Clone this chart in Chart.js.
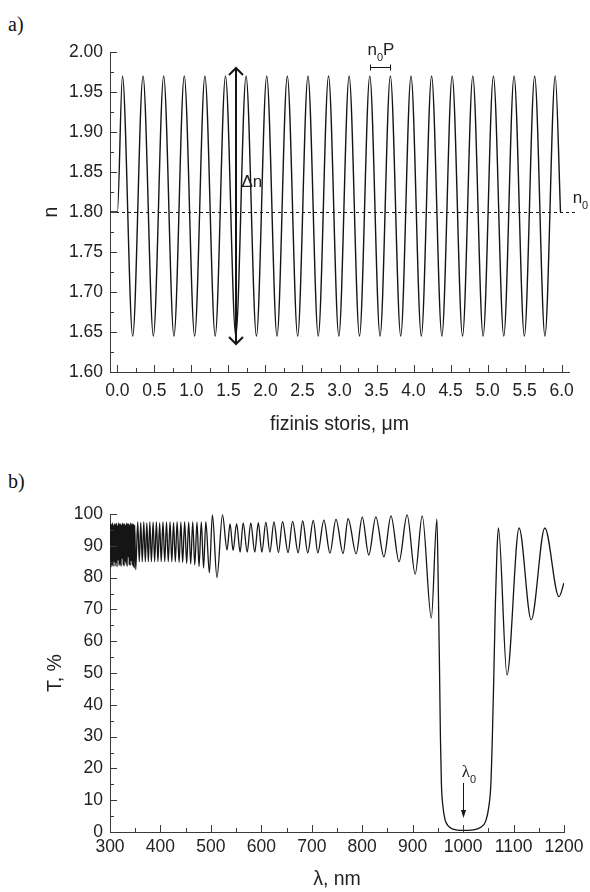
<!DOCTYPE html>
<html>
<head>
<meta charset="utf-8">
<script src="https://cdn.jsdelivr.net/npm/chart.js@4.4.1/dist/chart.umd.min.js"></script>
<style>
  body { margin: 0; background: #fff; }
  #page { position: relative; width: 590px; height: 892px; overflow: hidden; }
  .panel { position: absolute; left: 0; width: 590px; height: 446px; }
  .tag { position: absolute; left: 8px; font: 20px "Liberation Serif", "Times New Roman", serif; color: #111; line-height: 20px; }
</style>
</head>
<body>
<div id="page">
  <div class="tag" style="top: 14px;">a)</div>
  <div class="tag" style="top: 471px;">b)</div>
  <div class="panel" style="top: 0;"><canvas id="indexProfile" width="590" height="446"></canvas></div>
  <div class="panel" style="top: 446px;"><canvas id="transmission" width="590" height="446"></canvas></div>
</div>
<script>
// ---------- Data: refractive index profile (a) ----------
const thicknessUm = [
  -0.1, 0.0, 0.068, 0.207, 0.346, 0.486, 0.625, 0.764, 0.903, 1.043, 1.182, 1.321,
  1.460, 1.599, 1.738, 1.878, 2.017, 2.156, 2.295, 2.435, 2.574, 2.713, 2.852, 2.991,
  3.130, 3.270, 3.409, 3.548, 3.687, 3.827, 3.966, 4.105, 4.244, 4.383, 4.522, 4.662,
  4.801, 4.940, 5.079, 5.219, 5.358, 5.497, 5.636, 5.775, 5.914, 5.985
];
const refractiveIndex = [
  1.80, 1.80, 1.97, 1.645, 1.97, 1.645, 1.97, 1.645, 1.97, 1.645, 1.97, 1.645,
  1.97, 1.645, 1.97, 1.645, 1.97, 1.645, 1.97, 1.645, 1.97, 1.645, 1.97, 1.645,
  1.97, 1.645, 1.97, 1.645, 1.97, 1.645, 1.97, 1.645, 1.97, 1.645, 1.97, 1.645,
  1.97, 1.645, 1.97, 1.645, 1.97, 1.645, 1.97, 1.645, 1.97, 1.80
];
const meanIndex = 1.80;
const periodMarkFrom = 3.409;
const periodMarkTo = 3.687;
const deltaNAt = 1.6;
const deltaNTop = 1.98;
const deltaNBottom = 1.635;

// ---------- Data: transmission spectrum (b) ----------
const wavelengthNm = [
  300, 301, 302, 303, 304, 305, 306, 307, 308, 309, 310, 311, 312, 313, 314, 315, 316, 317,
  318, 319, 320, 321, 322, 323, 324, 325, 326, 327, 328, 329, 330, 331, 332, 333, 334, 335,
  336, 337, 338, 339, 340, 341, 342, 343, 344, 345, 346, 347, 348, 349,
  351, 355, 358, 361, 364, 367, 370, 373, 376, 379, 382, 385.5, 388.5, 392, 395, 398.5, 401.5, 405,
  408.5, 412, 415.5, 419, 422.5, 426, 429.5, 433, 437, 440.5, 444, 448, 452, 456, 460, 464, 468,
  472.5, 476.5, 481, 485.5, 490, 497, 503, 512, 523,
  532, 538, 544, 551, 558, 564, 572, 579, 587, 594, 601, 609, 617, 625, 634, 642, 653, 662, 673,
  682, 692, 703, 712, 724, 736, 748, 762, 772, 788, 800, 813, 827, 843, 857, 873, 889, 905, 919,
  937, 948,
  950.5, 953, 955, 957, 960, 964, 970, 980, 1000, 1020, 1035, 1045, 1051, 1055, 1058, 1061, 1064,
  1067, 1070, 1087, 1111, 1135, 1162, 1190, 1200
];
const transmissionPct = [
  90, 97, 83.3, 96.8, 84, 97.2, 83.5, 96.5, 85, 97, 83.6, 96.8, 84.5, 97.1, 83.4, 96.4, 85.5, 97.2,
  83.8, 96.9, 84.2, 97, 83.5, 96.6, 86, 97.2, 84, 96.8, 83.6, 97, 85, 96.5, 84.2, 97.2, 83.5, 96.9,
  86.5, 97, 84, 96.6, 83.8, 97.2, 85.2, 96.8, 84, 97, 83.5, 96.7, 83, 96.5,
  82.5, 97.5, 85, 97.3, 85, 97.5, 85, 97.2, 85, 97.5, 85, 97.4, 85, 97.5, 85, 97.2, 85, 97.5,
  85, 97.4, 85, 97.5, 85, 97.3, 85, 97.5, 84.8, 97.4, 84.8, 97.5, 84.5, 97.4, 84.3, 97.5, 84,
  97.4, 83.5, 97.5, 83, 97.6, 81.5, 99.7, 80, 99.7,
  88.7, 96.9, 88.5, 97, 88, 97.2, 88, 97.2, 88, 97.3, 88, 97.4, 88, 97.5, 87.9, 97.6, 87.9, 97.7, 87.8,
  97.8, 87.8, 98, 87.8, 98.1, 87.7, 98.3, 87.6, 98.5, 87.5, 99, 87.1, 99.1, 86.5, 99.4, 85, 99.7, 81.1, 99.4,
  67.3, 98.4,
  80, 54, 30, 15, 8, 4, 2, 0.9, 0.5, 0.7, 1.5, 3.5, 8, 15, 30, 50, 72,
  88, 95.6, 49.4, 95.6, 66.7, 95.6, 74, 78.3
];
const centerWavelength = 1000;

// ---------- Shared styling ----------
const inkColor = "#151515";
const axisColor = "#3a3a3a";
const labelColor = "#222";
const sansFamily = "'Liberation Sans', Arial, sans-serif";
Chart.defaults.font.family = sansFamily;
Chart.defaults.color = labelColor;

const toPoints = (xs, ys) => xs.map((x, i) => ({ x: x, y: ys[i] }));
const fixWidth = (w) => (scale) => { scale.width = w; };
const fixHeight = (h) => (scale) => { scale.height = h; };

// inward major ticks on every label, minor ticks halfway between
const inwardTicks = {
  id: "inwardTicks",
  afterDraw(chart) {
    const { ctx, chartArea } = chart;
    const xs = chart.scales.x, ys = chart.scales.y;
    ctx.save();
    ctx.strokeStyle = axisColor;
    ctx.lineWidth = 1;
    ctx.beginPath();
    const xv = xs.ticks.map((t) => t.value);
    xv.forEach((v, i) => {
      const px = Math.round(xs.getPixelForValue(v)) + 0.5;
      ctx.moveTo(px, chartArea.bottom);
      ctx.lineTo(px, chartArea.bottom - 7);
      if (i < xv.length - 1) {
        const mx = Math.round(xs.getPixelForValue((v + xv[i + 1]) / 2)) + 0.5;
        ctx.moveTo(mx, chartArea.bottom);
        ctx.lineTo(mx, chartArea.bottom - 4);
      }
    });
    const yv = ys.ticks.map((t) => t.value);
    yv.forEach((v, i) => {
      const py = Math.round(ys.getPixelForValue(v)) + 0.5;
      ctx.moveTo(chartArea.left, py);
      ctx.lineTo(chartArea.left + 7, py);
      if (i < yv.length - 1) {
        const my = Math.round(ys.getPixelForValue((v + yv[i + 1]) / 2)) + 0.5;
        ctx.moveTo(chartArea.left, my);
        ctx.lineTo(chartArea.left + 4, my);
      }
    });
    ctx.stroke();
    ctx.restore();
  },
};

// text with a subscript, e.g. n0P
function subText(ctx, x, y, parts) {
  let cx = x;
  parts.forEach((p) => {
    ctx.font = p.font;
    ctx.fillText(p.text, cx, y + (p.drop || 0));
    cx += ctx.measureText(p.text).width;
  });
}

const indexMarks = {
  id: "indexMarks",
  afterDatasetsDraw(chart) {
    const { ctx } = chart;
    const xs = chart.scales.x, ys = chart.scales.y;
    ctx.save();
    // n0 dashed level
    ctx.strokeStyle = inkColor;
    ctx.lineWidth = 1;
    ctx.setLineDash([3, 3]);
    const y0 = Math.round(ys.getPixelForValue(meanIndex)) + 0.5;
    ctx.beginPath();
    ctx.moveTo(xs.getPixelForValue(-0.1), y0);
    ctx.lineTo(xs.getPixelForValue(6.18), y0);
    ctx.stroke();
    ctx.setLineDash([]);

    // delta n double arrow
    const ax = Math.round(xs.getPixelForValue(deltaNAt));
    const at = ys.getPixelForValue(deltaNTop), ab = ys.getPixelForValue(deltaNBottom);
    ctx.lineWidth = 2;
    ctx.beginPath();
    ctx.moveTo(ax, at);
    ctx.lineTo(ax, ab);
    ctx.moveTo(ax - 7, at + 7);
    ctx.lineTo(ax, at);
    ctx.lineTo(ax + 7, at + 7);
    ctx.moveTo(ax - 7, ab - 7);
    ctx.lineTo(ax, ab);
    ctx.lineTo(ax + 7, ab - 7);
    ctx.stroke();

    // period bracket
    const bx1 = Math.round(xs.getPixelForValue(periodMarkFrom)) + 0.5;
    const bx2 = Math.round(xs.getPixelForValue(periodMarkTo)) + 0.5;
    const by = Math.round(ys.getPixelForValue(1.981)) + 0.5;
    ctx.lineWidth = 1;
    ctx.beginPath();
    ctx.moveTo(bx1, by);
    ctx.lineTo(bx2, by);
    ctx.moveTo(bx1, by - 3);
    ctx.lineTo(bx1, by + 3);
    ctx.moveTo(bx2, by - 3);
    ctx.lineTo(bx2, by + 3);
    ctx.stroke();

    ctx.fillStyle = labelColor;
    ctx.textBaseline = "alphabetic";
    const big = "17px " + sansFamily, small = "11px " + sansFamily;
    subText(ctx, xs.getPixelForValue(1.676), ys.getPixelForValue(1.831), [
      { text: "\u0394n", font: big },
    ]);
    subText(ctx, xs.getPixelForValue(3.378), ys.getPixelForValue(1.996), [
      { text: "n", font: big },
      { text: "0", font: small, drop: 6 },
      { text: "P", font: big },
    ]);
    subText(ctx, xs.getPixelForValue(6.149), ys.getPixelForValue(1.811), [
      { text: "n", font: big },
      { text: "0", font: small, drop: 6 },
    ]);
    ctx.restore();
  },
};

const stopbandMarks = {
  id: "stopbandMarks",
  afterDatasetsDraw(chart) {
    const { ctx } = chart;
    const xs = chart.scales.x, ys = chart.scales.y;
    ctx.save();
    const ax = Math.round(xs.getPixelForValue(centerWavelength)) + 0.5;
    const top = ys.getPixelForValue(15.4), tip = ys.getPixelForValue(4.4);
    ctx.strokeStyle = inkColor;
    ctx.fillStyle = inkColor;
    ctx.lineWidth = 1;
    ctx.beginPath();
    ctx.moveTo(ax, top);
    ctx.lineTo(ax, tip - 6);
    ctx.stroke();
    ctx.beginPath();
    ctx.moveTo(ax, tip);
    ctx.lineTo(ax - 2.5, tip - 8);
    ctx.lineTo(ax + 2.5, tip - 8);
    ctx.closePath();
    ctx.fill();

    ctx.fillStyle = labelColor;
    subText(ctx, xs.getPixelForValue(997.5), ys.getPixelForValue(17.3), [
      { text: "\u03bb", font: "17px 'Liberation Serif', serif" },
      { text: "0", font: "11px " + sansFamily, drop: 6 },
    ]);
    ctx.restore();
  },
};

// ---------- Chart a: index profile ----------
new Chart(document.getElementById("indexProfile"), {
  type: "line",
  data: {
    datasets: [
      {
        data: toPoints(thicknessUm, refractiveIndex),
        borderColor: inkColor,
        borderWidth: 1.4,
        pointRadius: 0,
        cubicInterpolationMode: "monotone",
        fill: false,
      },
    ],
  },
  options: {
    responsive: false,
    animation: false,
    events: [],
    layout: { padding: { top: 52, right: 21, bottom: 0, left: 0 } },
    plugins: { legend: { display: false }, tooltip: { enabled: false } },
    scales: {
      x: {
        type: "linear",
        min: -0.1,
        max: 6.1,
        afterFit: fixHeight(74),
        grid: { display: false, drawTicks: false },
        border: { display: true, color: axisColor, width: 1 },
        ticks: {
          stepSize: 0.5,
          includeBounds: false,
          padding: 9,
          maxRotation: 0,
          font: { size: 17.5 },
          callback: (v) => v.toFixed(1),
        },
        title: {
          display: true,
          text: "fizinis storis, \u03bcm",
          font: { size: 19.5 },
          padding: { top: 0, bottom: 10 },
        },
      },
      y: {
        min: 1.6,
        max: 2.0,
        afterFit: fixWidth(110),
        grid: { display: false, drawTicks: false },
        border: { display: true, color: axisColor, width: 1 },
        ticks: {
          stepSize: 0.05,
          padding: 7,
          font: { size: 17.5 },
          callback: (v) => v.toFixed(2),
        },
        title: {
          display: true,
          text: "n",
          font: { size: 19.5 },
          padding: { top: 40, bottom: 0 },
        },
      },
    },
  },
  plugins: [inwardTicks, indexMarks],
});

// ---------- Chart b: transmission spectrum ----------
new Chart(document.getElementById("transmission"), {
  type: "line",
  data: {
    datasets: [
      {
        data: toPoints(wavelengthNm, transmissionPct),
        borderColor: inkColor,
        borderWidth: 1.3,
        pointRadius: 0,
        cubicInterpolationMode: "monotone",
        fill: false,
      },
    ],
  },
  options: {
    responsive: false,
    animation: false,
    events: [],
    layout: { padding: { top: 68, right: 26, bottom: 0, left: 0 } },
    plugins: { legend: { display: false }, tooltip: { enabled: false } },
    scales: {
      x: {
        type: "linear",
        min: 300,
        max: 1200,
        afterFit: fixHeight(60),
        grid: { display: false, drawTicks: false },
        border: { display: true, color: axisColor, width: 1 },
        ticks: {
          stepSize: 100,
          padding: 5,
          maxRotation: 0,
          font: { size: 17.5 },
          callback: (v) => String(v),
        },
        title: {
          display: true,
          text: "\u03bb, nm",
          font: { size: 19.5 },
          padding: { top: 0, bottom: 1 },
        },
      },
      y: {
        min: 0,
        max: 100,
        afterFit: fixWidth(110),
        grid: { display: false, drawTicks: false },
        border: { display: true, color: axisColor, width: 1 },
        ticks: {
          stepSize: 10,
          padding: 7,
          font: { size: 17.5 },
          callback: (v) => String(v),
        },
        title: {
          display: true,
          text: "T, %",
          font: { size: 19.5 },
          padding: { top: 44, bottom: 0 },
        },
      },
    },
  },
  plugins: [inwardTicks, stopbandMarks],
});
</script>
</body>
</html>
